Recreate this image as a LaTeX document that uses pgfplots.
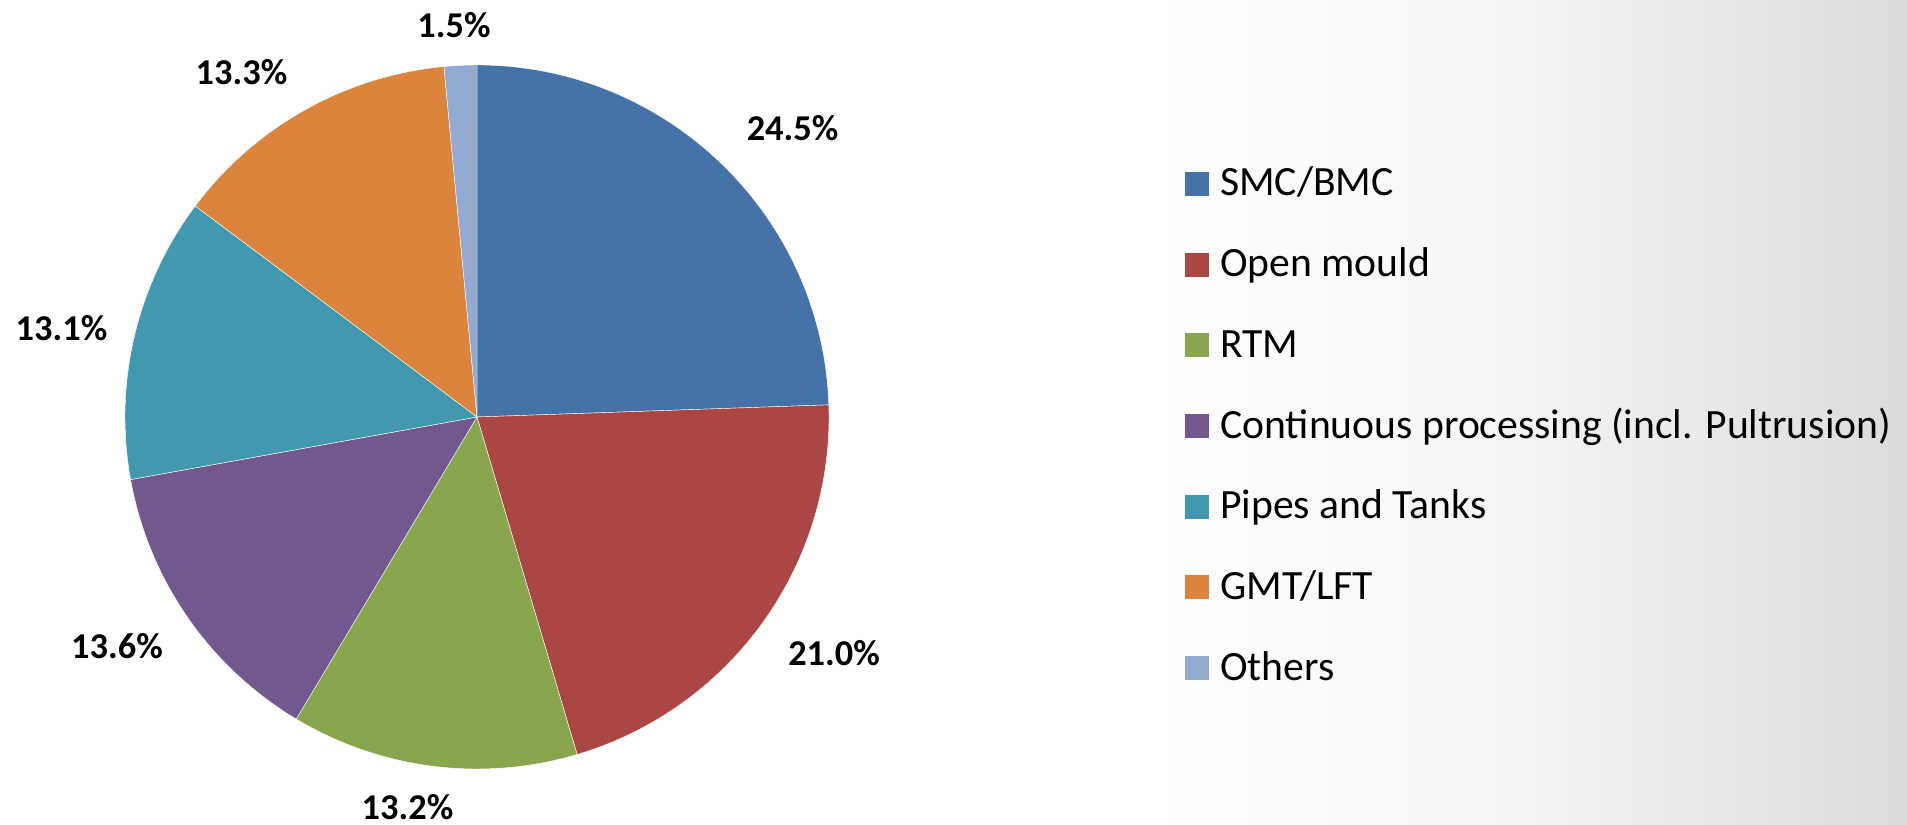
\documentclass[border=0pt]{standalone}
\usepackage{fontspec}
\setmainfont{Carlito}
\usepackage{pgfplots}
\pgfplotsset{compat=1.18}
\usepackage{pgfplotstable}

\definecolor{cSMC}{HTML}{4572A7}
\definecolor{cOpen}{HTML}{AA4643}
\definecolor{cRTM}{HTML}{89A54E}
\definecolor{cCont}{HTML}{71588F}
\definecolor{cPipes}{HTML}{4198AF}
\definecolor{cGMT}{HTML}{DB843D}
\definecolor{cOther}{HTML}{93A9CF}

\pgfdeclarehorizontalshading{bgshade}{100bp}{color(0bp)=(white); color(25bp)=(white); color(45bp)=(black!3); color(65bp)=(black!10); color(85bp)=(black!18); color(100bp)=(black!25)}

% value = share in percent; lx, ly = position of the data label
\pgfplotstableread[col sep=comma]{
name,value,color,lx,ly
SMC/BMC,24.5,cSMC,792.5,696.5
Open mould,21.0,cOpen,834,171.5
RTM,13.2,cRTM,407.5,18
Continuous processing (incl. Pultrusion),13.6,cCont,117,178.5
Pipes and Tanks,13.1,cPipes,61.5,496.5
GMT/LFT,13.3,cGMT,241.5,753
Others,1.5,cOther,454,800
}\piedata

\begin{document}
\begin{tikzpicture}
\begin{axis}[x=1bp, y=1bp, xmin=0, xmax=1907, ymin=0, ymax=825,
  hide axis, clip=false]
\pgfplotsextra{
  \fill[white] (axis cs:0,0) rectangle (axis cs:1907,825);
  \shade[shading=bgshade] (axis cs:1150,0) rectangle (axis cs:1907,825);
  % total of the shares
  \xdef\pietotal{0}
  \foreach \i in {0,...,6}{
    \pgfplotstablegetelem{\i}{value}\of\piedata
    \pgfmathparse{\pietotal+\pgfplotsretval}\xdef\pietotal{\pgfmathresult}
  }
  \xdef\startang{90}
  \foreach \i in {0,...,6}{
    \pgfplotstablegetelem{\i}{value}\of\piedata \let\sliceval\pgfplotsretval
    \pgfplotstablegetelem{\i}{color}\of\piedata \let\slicecol\pgfplotsretval
    \pgfplotstablegetelem{\i}{name}\of\piedata \let\slicename\pgfplotsretval
    \pgfplotstablegetelem{\i}{lx}\of\piedata \let\labx\pgfplotsretval
    \pgfplotstablegetelem{\i}{ly}\of\piedata \let\laby\pgfplotsretval
    \pgfmathsetmacro\endang{\startang-360*\sliceval/\pietotal}
    \fill[fill=\slicecol, draw=white, line width=0.4bp]
      (axis cs:477,408) -- ++(\startang:352bp)
      arc[start angle=\startang, end angle=\endang, radius=352bp] -- cycle;
    \node[inner sep=0pt, font=\fontsize{36.5}{44}\selectfont\bfseries]
      at (axis cs:\labx,\laby) {\sliceval\%};
    % legend entry
    \pgfmathsetmacro\legy{629-\i*80.67}
    \pgfmathsetmacro\legtop{\legy+24}
    \fill[fill=\slicecol] (axis cs:1185,\legy) rectangle (axis cs:1209,\legtop);
    \node[anchor=base west, inner sep=0pt, font=\fontsize{41.8}{50}\selectfont]
      at (axis cs:1220,\legy) {\slicename};
    \xdef\startang{\endang}
  }
}
\end{axis}
\end{tikzpicture}
\end{document}
